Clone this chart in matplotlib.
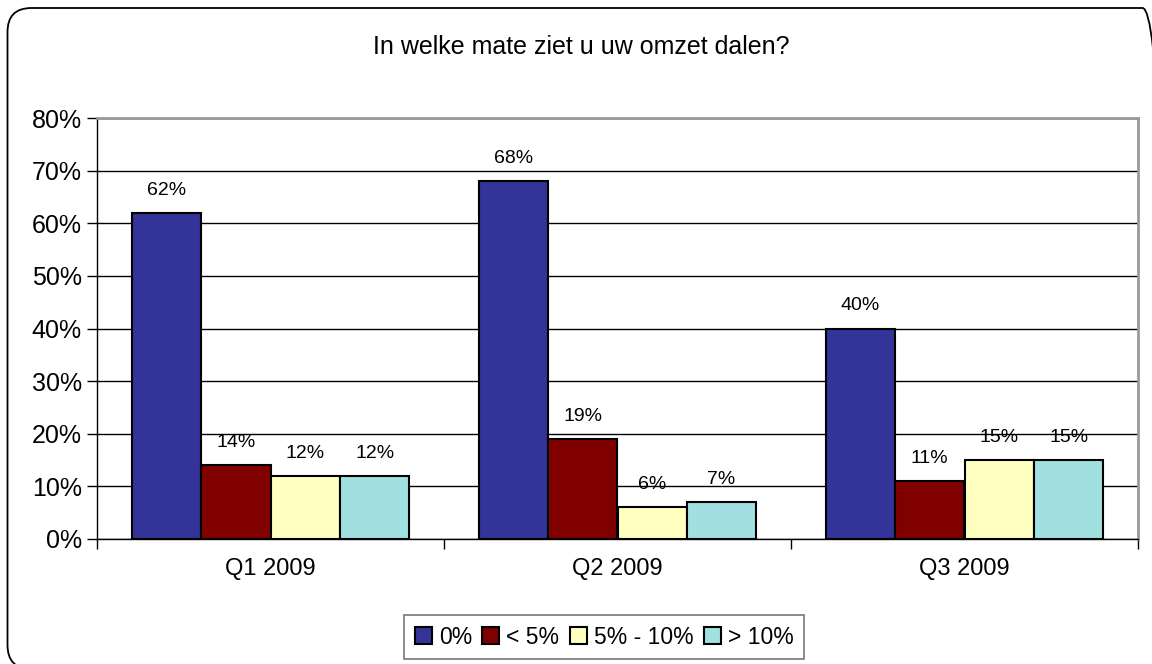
import numpy as np
import matplotlib.pyplot as plt
from matplotlib.patches import FancyBboxPatch
from matplotlib.transforms import IdentityTransform

plt.rcParams['font.family'] = ['Liberation Sans', 'DejaVu Sans']

# data
kwartalen = ['Q1 2009', 'Q2 2009', 'Q3 2009']
reeksen = ['0%', '< 5%', '5% - 10%', '> 10%']
waarden = [
    [62, 68, 40],
    [14, 19, 11],
    [12, 6, 15],
    [12, 7, 15],
]
kleuren = ['#333399', '#800000', '#FFFFC0', '#A0E0E0']

fig = plt.figure(figsize=(11.52, 6.64), dpi=100)
ax = fig.add_axes([97/1152, 1-539/664, (1138-97)/1152, (539-118)/664])

# afgeronde rand om de hele grafiek (in pixels, oorsprong linksonder)
rand = FancyBboxPatch((7.5, -5), 1159, 664-8+5,
                      boxstyle='round,pad=0,rounding_size=24',
                      transform=IdentityTransform(), fill=False,
                      edgecolor='black', lw=1.3)
fig.patches.append(rand)

x = np.arange(len(kwartalen))
breedte = 0.2
for i, (naam, rij) in enumerate(zip(reeksen, waarden)):
    pos = x - 1.5*breedte + i*breedte
    bars = ax.bar(pos, rij, breedte, color=kleuren[i], edgecolor='black',
                  lw=1.5, label=naam, zorder=3)
    for b, v in zip(bars, rij):
        ax.text(b.get_x() + b.get_width()/2, v + 4.3, f'{v}%',
                ha='center', va='center', fontsize=14)

ax.set_xlim(-0.5, 2.5)
ax.set_ylim(0, 80)
ax.set_yticks(range(0, 81, 10))
ax.set_yticklabels([f'{t}%' for t in range(0, 81, 10)], fontsize=18)
ax.yaxis.grid(True, color='black', lw=1, zorder=0)
ax.set_xticks(x)
ax.set_xticklabels(kwartalen, fontsize=17)
ax.tick_params(axis='x', length=0, pad=14)
ax.set_xticks([-0.5, 0.5, 1.5, 2.5], minor=True)
ax.tick_params(axis='x', which='minor', length=7, direction='out', width=1)
ax.tick_params(axis='y', length=7, width=1, pad=4)

for s in ['top', 'right']:
    ax.spines[s].set_color('#999999')
    ax.spines[s].set_linewidth(2)
for s in ['left', 'bottom']:
    ax.spines[s].set_color('black')
    ax.spines[s].set_linewidth(1)

fig.text(581/1152, 1-47/664, 'In welke mate ziet u uw omzet dalen?',
         ha='center', va='center', fontsize=18)

leg = fig.legend(loc='center', bbox_to_anchor=(604/1152, 1-637/664), ncol=4,
                 fontsize=16.5, frameon=True, fancybox=False, edgecolor='#555555',
                 handlelength=0.75, handleheight=0.75, handletextpad=0.3,
                 columnspacing=0.45, borderpad=0.45)
leg.get_frame().set_linewidth(1.2)

fig.savefig('out.png', dpi=100)
